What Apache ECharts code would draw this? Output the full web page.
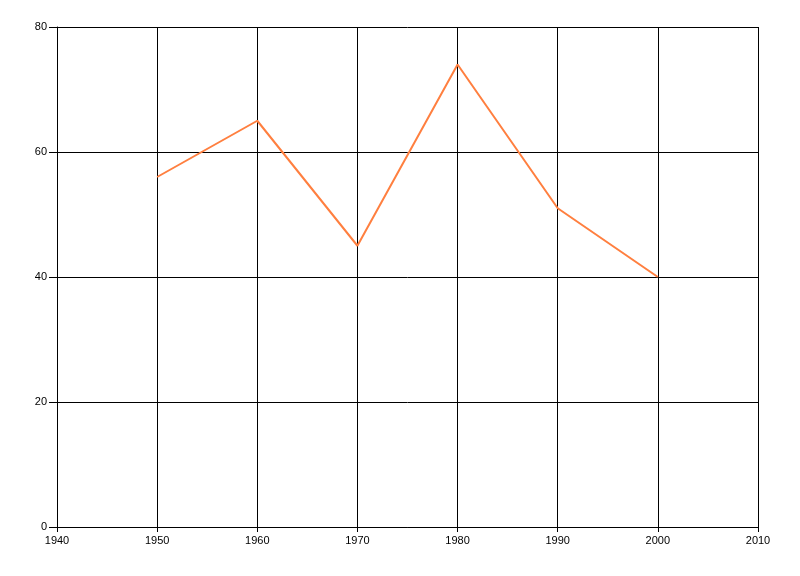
<!DOCTYPE html>
<html>
<head>
<meta charset="utf-8">
<script src="https://cdn.jsdelivr.net/npm/echarts@6/dist/echarts.min.js"></script>
<style>html,body{margin:0;padding:0;background:#fff;}#c{width:800px;height:576px;}</style>
</head>
<body>
<div id="c"></div>
<script>
const years = [1950, 1960, 1970, 1980, 1990, 2000];
const values = [56, 65, 45, 74, 51, 40];
const xMin = 1940, xMax = 2010, xStep = 10;
const yMin = 0, yMax = 80, yStep = 20;

const chart = echarts.init(document.getElementById('c'), null, {renderer: 'canvas'});
const labelStyle = {color: '#000', fontFamily: 'Liberation Sans, Arial, sans-serif', fontSize: 11, formatter: v => String(v)};
const splitStyle = {show: true, lineStyle: {color: '#000', width: 1}};
chart.setOption({
  animation: false,
  backgroundColor: '#fff',
  grid: {left: 57, right: 42, top: 27, bottom: 49, containLabel: false},
  xAxis: {
    type: 'value', min: xMin, max: xMax, interval: xStep,
    axisLine: {show: true, lineStyle: {color: '#000', width: 1}},
    axisTick: {show: true, length: 5, lineStyle: {color: '#000'}},
    axisLabel: Object.assign({}, labelStyle, {margin: 8}),
    splitLine: splitStyle
  },
  yAxis: {
    type: 'value', min: yMin, max: yMax, interval: yStep,
    axisLine: {show: true, lineStyle: {color: '#000', width: 1}},
    axisTick: {show: true, length: 8, lineStyle: {color: '#000'}},
    axisLabel: Object.assign({}, labelStyle, {margin: 10}),
    splitLine: splitStyle
  },
  series: [{
    type: 'line',
    data: years.map((y, i) => [y, values[i]]),
    showSymbol: false,
    symbol: 'none',
    lineStyle: {color: '#FF7F3F', width: 2},
    itemStyle: {color: '#FF7F3F'}
  }]
});
</script>
</body>
</html>
